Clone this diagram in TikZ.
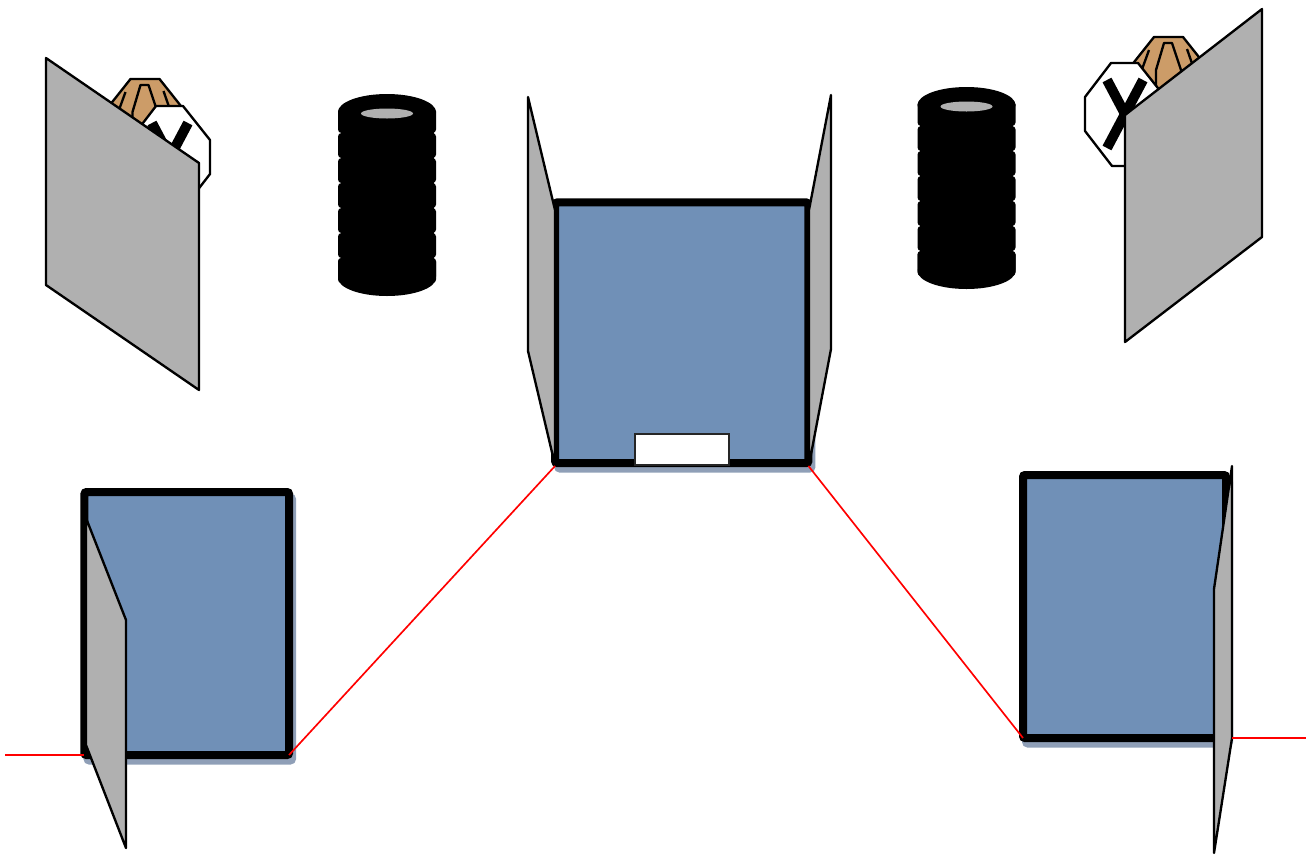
\documentclass[tikz,border=0pt]{standalone}
\definecolor{panelblue}{HTML}{7090B7}
\definecolor{panelshadow}{HTML}{8F9FB7}
\definecolor{wingrey}{HTML}{B0B0B0}
\definecolor{conebrown}{HTML}{CC9C68}
\tikzset{
  px/.style={x=0.75pt,y=-0.75pt},
  thin line/.style={line width=1.75pt,line join=round,draw=black},
  wing/.style={thin line,fill=wingrey},
  screen/.style={draw=black,line width=6pt,fill=panelblue,rounded corners=1.5pt,inner sep=0pt,outer sep=0pt},
  screenshadow/.style={draw=panelshadow,line width=6pt,fill=panelshadow,rounded corners=1.5pt,inner sep=0pt,outer sep=0pt},
  redline/.style={draw=red,line width=1.25pt},
  tyre/.style={fill=black,draw=none,rounded corners=2.6pt},
}
\newcommand{\tyrestack}[2]{%
 \begin{scope}[shift={(#1,#2)}]
  \fill[black] (387,112) ellipse[x radius=49,y radius=18];
  \fill[black] (387,278) ellipse[x radius=49,y radius=18];
  \foreach \yy in {108,133,158,183,208,233,258}{
    \fill[tyre] (338,\yy) rectangle (436,\yy+25);
  }
  \fill[tyre] (338,258) rectangle (436,280);
  \fill[black] (340.5,108) rectangle (433.5,280);
  \fill[wingrey] (387,113.5) ellipse[x radius=26,y radius=5];
 \end{scope}}
\newcommand{\conesign}[2]{%
 \begin{scope}[shift={(#1,#2)}]
  \draw[thin line,fill=conebrown] (1154,37) -- (1183,37) -- (1210,71) -- (1210,105) -- (1183,140) -- (1154,140) -- (1127,105) -- (1127,71) -- cycle;
  \draw[thin line] (1156,100) -- (1156,70) -- (1164,43) -- (1172,43) -- (1181,70) -- (1181,100);
  \draw[thin line] (1149,50) -- (1141,72);
  \draw[thin line] (1187,49) -- (1195,72);
 \end{scope}}
\newcommand{\crosssign}[2]{%
 \begin{scope}[shift={(#1,#2)}]
  \draw[thin line,fill=white] (1111,63) -- (1138,63) -- (1165,97) -- (1165,131) -- (1138,166) -- (1112,166) -- (1085,131) -- (1085,97) -- cycle;
  \draw[black,line width=7.5pt] (1107,80) -- (1143,148);
  \draw[black,line width=7.5pt] (1143,80) -- (1107,148);
 \end{scope}}
\begin{document}
\begin{tikzpicture}[px]
\useasboundingbox (0,0) rectangle (1306,854);
% upper-left group
\conesign{-1023.5}{42}
\crosssign{-955}{43}
\draw[wing] (46,58) -- (199,163) -- (199,390) -- (46,285) -- cycle;
% upper-right group
\conesign{0}{0}
\crosssign{0}{0}
\draw[wing] (1262,9) -- (1262,237) -- (1125,342) -- (1125,115) -- cycle;
% tyre stacks
\tyrestack{0}{0}
\tyrestack{579.5}{-7}
% screens: shadows
\node[screenshadow,minimum width=190pt,minimum height=195.4pt] (shadowC) at (684.75,338.25) {};
\node[screenshadow,minimum width=153.4pt,minimum height=197.25pt] (shadowL) at (189.75,629) {};
\node[screenshadow,minimum width=152.25pt,minimum height=197.25pt] (shadowR) at (1127.5,612) {};
% screens
\node[screen,minimum width=190pt,minimum height=195.4pt] (screenC) at (681.75,332.75) {};
\node[screen,minimum width=153.4pt,minimum height=197.25pt] (screenL) at (186.75,623.5) {};
\node[screen,minimum width=152.25pt,minimum height=197.25pt] (screenR) at (1124.5,606.5) {};
% white slot
\node[draw=black!85,line width=1.5pt,fill=white,inner sep=0pt,outer sep=0pt,minimum width=70.5pt,minimum height=23pt] (slot) at (681.5,449.5) {};
% wings
\draw[wing] (528,97) -- (555,210) -- (555,465) -- (528,351) -- cycle;
\draw[wing] (831,95) -- (809,210) -- (809,465) -- (831,349) -- cycle;
\draw[wing] (86,518) -- (126,620) -- (126,848) -- (86,745) -- cycle;
\draw[wing] (1232,466) -- (1214,589) -- (1214,853) -- (1232,738) -- cycle;
% red connectors
\coordinate (leftfree) at (5,755);
\coordinate (rightfree) at (1306,738);
\coordinate (wingRend) at (1232,738);
\coordinate (wingLstart) at (84,755);
\draw[redline] (leftfree) -- (wingLstart);
\draw[redline] (screenL.south east) -- ([yshift=-2.2pt]screenC.south west);
\draw[redline] ([yshift=-2.2pt]screenC.south east) -- (screenR.south west);
\draw[redline] (wingRend) -- (rightfree);
\end{tikzpicture}
\end{document}
